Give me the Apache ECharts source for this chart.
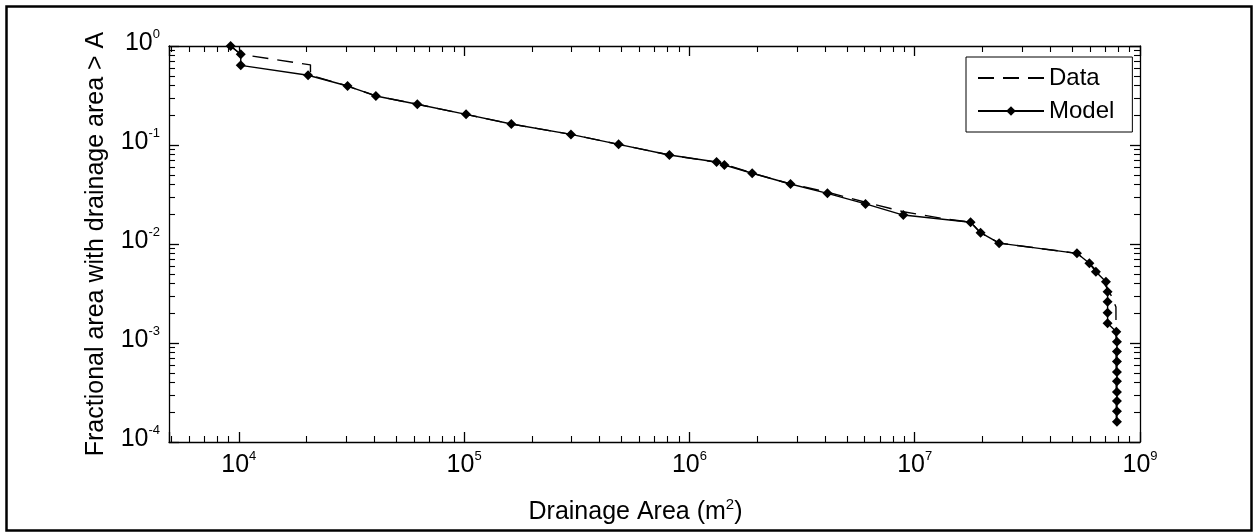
<!DOCTYPE html>
<html lang="en">

<head>
    <meta charset="UTF-8">
    <title>Drainage area distribution</title>
    <script src="https://cdn.jsdelivr.net/npm/echarts@6/dist/echarts.min.js"></script>
    <style>
        body {
            margin: 0;
            padding: 0;
            background: #fff;
        }
    </style>
</head>

<body>
    <div id="chart" style="width: 1256px;height: 532px;"></div>
    <script>
        // tick labels (the reference prints 10^9 at the right end of the axis)
        var xTickValues = [1e4, 1e5, 1e6, 1e7, 1e8];
        var xTickExp = ['4', '5', '6', '7', '9'];
        var yTickValues = [1e-4, 1e-3, 1e-2, 1e-1, 1];
        var yTickExp = ['-4', '-3', '-2', '-1', '0'];

        // Model: drainage area (m2) and fraction of area
        var modelArea = [9.2e3, 1.02e4, 1.02e4, 2.03e4, 3.04e4, 4.06e4, 6.2e4, 1.02e5, 1.62e5, 2.98e5,
            4.85e5, 8.15e5, 1.32e6, 1.43e6, 1.9e6, 2.81e6, 4.1e6, 6.05e6, 8.9e6, 1.77e7,
            1.96e7, 2.37e7, 5.25e7, 5.96e7, 6.37e7, 7.06e7, 7.18e7, 7.18e7, 7.18e7, 7.18e7,
            7.85e7, 7.9e7, 7.9e7, 7.9e7, 7.9e7, 7.9e7, 7.9e7, 7.9e7, 7.9e7, 7.9e7];
        var modelFrac = [1.0, 0.824, 0.638, 0.506, 0.394, 0.313, 0.258, 0.204, 0.163, 0.128,
            0.1016, 0.0793, 0.0673, 0.0628, 0.0518, 0.0404, 0.0325, 0.0254, 0.0196, 0.0166,
            0.013, 0.0102, 0.00805, 0.00638, 0.00525, 0.00416, 0.0033, 0.00261, 0.00202, 0.00158,
            0.0013, 0.00103, 8.2e-4, 6.5e-4, 5.1e-4, 4.1e-4, 3.2e-4, 2.6e-4, 2.05e-4, 1.6e-4];

        // Data
        var dataArea = [9.2e3, 1.02e4, 2.08e4, 2.08e4, 3.04e4, 4.06e4, 6.2e4, 1.02e5, 1.62e5, 2.98e5,
            4.85e5, 8.15e5, 1.37e6, 1.9e6, 2.81e6, 4.1e6, 6.05e6, 8.9e6, 1.35e7, 1.77e7,
            1.96e7, 2.37e7, 5.25e7, 5.96e7, 6.5e7, 7.43e7, 7.82e7, 7.85e7];
        var dataFrac = [1.0, 0.824, 0.645, 0.506, 0.394, 0.313, 0.258, 0.204, 0.163, 0.128,
            0.1016, 0.0793, 0.066, 0.052, 0.0404, 0.0334, 0.0264, 0.0212, 0.018, 0.0166,
            0.013, 0.0102, 0.00805, 0.0064, 0.0052, 0.00305, 0.00231, 1.6e-4];

        var font = '"Liberation Sans", Arial, sans-serif';

        function pairs(xs, ys) {
            return xs.map(function (x, i) { return [x, ys[i]]; });
        }

        function powLabel(values, exps) {
            return function (v) {
                for (var i = 0; i < values.length; i++) {
                    if (Math.abs(Math.log10(v) - Math.log10(values[i])) < 1e-6) {
                        return '{base|10}{sup|' + exps[i] + '}';
                    }
                }
                return '';
            };
        }

        var tickRich = {
            base: { fontSize: 25, lineHeight: 24, padding: [6, 0, 0, 0], fontFamily: font, color: '#000' },
            sup: { fontSize: 13, lineHeight: 13, verticalAlign: 'top', fontFamily: font, color: '#000' }
        };

        var frameLine = { show: true, onZero: false, lineStyle: { color: '#000', width: 1.3 } };
        var majorTick = { show: true, inside: true, length: 10, lineStyle: { color: '#000', width: 1.3 } };
        var minorTick = { show: true, splitNumber: 9, length: 6, lineStyle: { color: '#000', width: 1.1 } };

        function xAxisDef(pos, withLabel) {
            return {
                type: 'log', logBase: 10, position: pos, min: 4900, max: 1e8,
                axisLine: frameLine, axisTick: majorTick, minorTick: minorTick,
                splitLine: { show: false },
                axisLabel: withLabel ? {
                    show: true, margin: 8, formatter: powLabel(xTickValues, xTickExp),
                    fontSize: 25, fontFamily: font, color: '#000',
                    rich: tickRich, showMinLabel: true, showMaxLabel: true, hideOverlap: false
                } : { show: false },
                name: withLabel ? '{a|Drainage Area (m}{s|2}{a|)}' : '',
                nameLocation: 'middle', nameGap: 55,
                nameTextStyle: {
                    padding: [0, 38, 0, 0],
                    rich: {
                        a: { fontSize: 25, lineHeight: 30, fontFamily: font, color: '#000' },
                        s: { fontSize: 15, lineHeight: 20, verticalAlign: 'top', fontFamily: font, color: '#000' }
                    }
                }
            };
        }

        function yAxisDef(pos, withLabel) {
            return {
                type: 'log', logBase: 10, position: pos, min: 1e-4, max: 1,
                axisLine: frameLine, axisTick: majorTick, minorTick: minorTick,
                splitLine: { show: false },
                axisLabel: withLabel ? {
                    show: true, margin: 9, formatter: powLabel(yTickValues, yTickExp),
                    fontSize: 25, fontFamily: font, color: '#000',
                    rich: tickRich, padding: [0, 0, 12, 0],
                    showMinLabel: true, showMaxLabel: true, hideOverlap: false
                } : { show: false },
                name: withLabel ? 'Fractional area with drainage area > A' : '',
                nameLocation: 'middle', nameGap: 60,
                nameTextStyle: { fontSize: 25, fontFamily: font, color: '#000' }
            };
        }

        var chart = echarts.init(document.getElementById('chart'));
        var option = {
            animation: false,
            backgroundColor: '#fff',
            grid: { left: 169, right: 116, top: 46, bottom: 90 },
            xAxis: [xAxisDef('bottom', true), xAxisDef('top', false)],
            yAxis: [yAxisDef('left', true), yAxisDef('right', false)],
            legend: {
                data: [
                    { name: 'Data', itemStyle: { opacity: 0 } },
                    { name: 'Model' }
                ],
                orient: 'vertical',
                left: 966, top: 57,
                padding: [9, 18, 9, 11],
                itemGap: 9,
                itemWidth: 66, itemHeight: 12,
                backgroundColor: '#fff',
                borderColor: '#000', borderWidth: 1, borderRadius: 0,
                textStyle: { fontSize: 24, fontFamily: font, color: '#000' }
            },
            graphic: [{
                type: 'rect',
                shape: { x: 6.5, y: 6.5, width: 1245, height: 524 },
                style: { fill: 'none', stroke: '#000', lineWidth: 2.5 },
                silent: true
            }],
            series: [
                {
                    name: 'Data',
                    type: 'line',
                    data: pairs(dataArea, dataFrac),
                    showSymbol: false,
                    symbol: 'none',
                    lineStyle: { color: '#000', width: 1.4, type: [16, 9] },
                    itemStyle: { color: '#000' }
                },
                {
                    name: 'Model',
                    type: 'line',
                    data: pairs(modelArea, modelFrac),
                    symbol: 'diamond',
                    symbolSize: 10,
                    showAllSymbol: true,
                    lineStyle: { color: '#000', width: 1.4 },
                    itemStyle: { color: '#000' }
                }
            ]
        };
        chart.setOption(option);
    </script>
</body>

</html>
